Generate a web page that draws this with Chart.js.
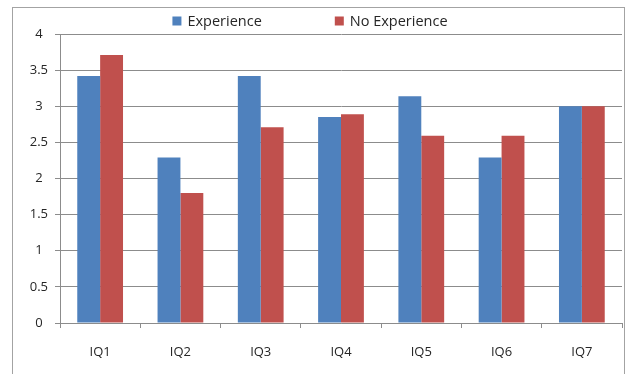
<!DOCTYPE html>
<html>
<head>
<meta charset="utf-8">
<script src="https://cdn.jsdelivr.net/npm/chart.js@4/dist/chart.umd.min.js"></script>
<style>
  html, body { margin: 0; padding: 0; background: #fff; }
  #wrap { position: relative; width: 629px; height: 374px; overflow: hidden; }
  #frame { position: absolute; left: 12px; top: 7px; width: 613px; height: 400px;
           border: 1.5px solid #a3a3a3; box-sizing: border-box; }
  canvas { position: absolute; left: 0; top: 0; }
</style>
</head>
<body>
<div id="wrap">
  <div id="frame"></div>
  <canvas id="c" width="629" height="374"></canvas>
</div>
<script>
const categories = ['IQ1', 'IQ2', 'IQ3', 'IQ4', 'IQ5', 'IQ6', 'IQ7'];
const experience = [3.42, 2.29, 3.42, 2.85, 3.14, 2.29, 3.0];
const noExperience = [3.71, 1.8, 2.71, 2.89, 2.59, 2.59, 3.0];
const yTicks = [0, 0.5, 1, 1.5, 2, 2.5, 3, 3.5, 4];

const FONT = '"Open Sans", sans-serif';
const TEXT = '#262626';
const GRID = '#8c8c8c';

// Legend drawn as one centred row with wide spacing between entries
const rowLegend = {
  id: 'rowLegend',
  afterDraw(chart) {
    const ctx = chart.ctx;
    const box = 9, gap = 6, spacing = 73, y = 21;
    ctx.save();
    ctx.font = '14.5px ' + FONT;
    ctx.textBaseline = 'middle';
    const items = chart.data.datasets.map(ds => ({
      label: ds.label, color: ds.backgroundColor,
      w: box + gap + ctx.measureText(ds.label).width
    }));
    const total = items.reduce((s, it) => s + it.w, 0) + spacing * (items.length - 1);
    let x = 310 - total / 2;
    items.forEach(it => {
      ctx.fillStyle = it.color;
      ctx.fillRect(x, y - 4.5, box, box);
      ctx.fillStyle = TEXT;
      ctx.textAlign = 'left';
      ctx.fillText(it.label, x + box + gap, y + 0.5);
      x += it.w + spacing;
    });
    ctx.restore();
  }
};

new Chart(document.getElementById('c'), {
  type: 'bar',
  data: {
    labels: categories,
    datasets: [
      { label: 'Experience', data: experience, backgroundColor: '#4f81bd' },
      { label: 'No Experience', data: noExperience, backgroundColor: '#c0504d' }
    ]
  },
  options: {
    responsive: false,
    animation: false,
    devicePixelRatio: 1,
    layout: { padding: { top: 34, right: 7, left: 0, bottom: 0 } },
    datasets: { bar: { categoryPercentage: 0.57, barPercentage: 1.0 } },
    plugins: { legend: { display: false }, tooltip: { enabled: false } },
    scales: {
      x: {
        grid: { offset: true, drawOnChartArea: false, drawTicks: true, tickLength: 5, color: GRID },
        border: { display: true, color: GRID, width: 1 },
        ticks: { color: TEXT, font: { family: FONT, size: 13 }, padding: 16 },
        afterFit(scale) { scale.height = 51; }
      },
      y: {
        min: 0, max: 4,
        afterBuildTicks(scale) { scale.ticks = yTicks.map(v => ({ value: v })); },
        grid: { color: GRID, lineWidth: 1, tickLength: 5 },
        border: { display: true, color: GRID, width: 1 },
        ticks: {
          color: TEXT, font: { family: FONT, size: 13 }, crossAlign: 'center', padding: 7,
          callback: v => String(v)
        },
        afterFit(scale) { scale.width = 60; }
      }
    }
  },
  plugins: [rowLegend]
});
</script>
</body>
</html>
